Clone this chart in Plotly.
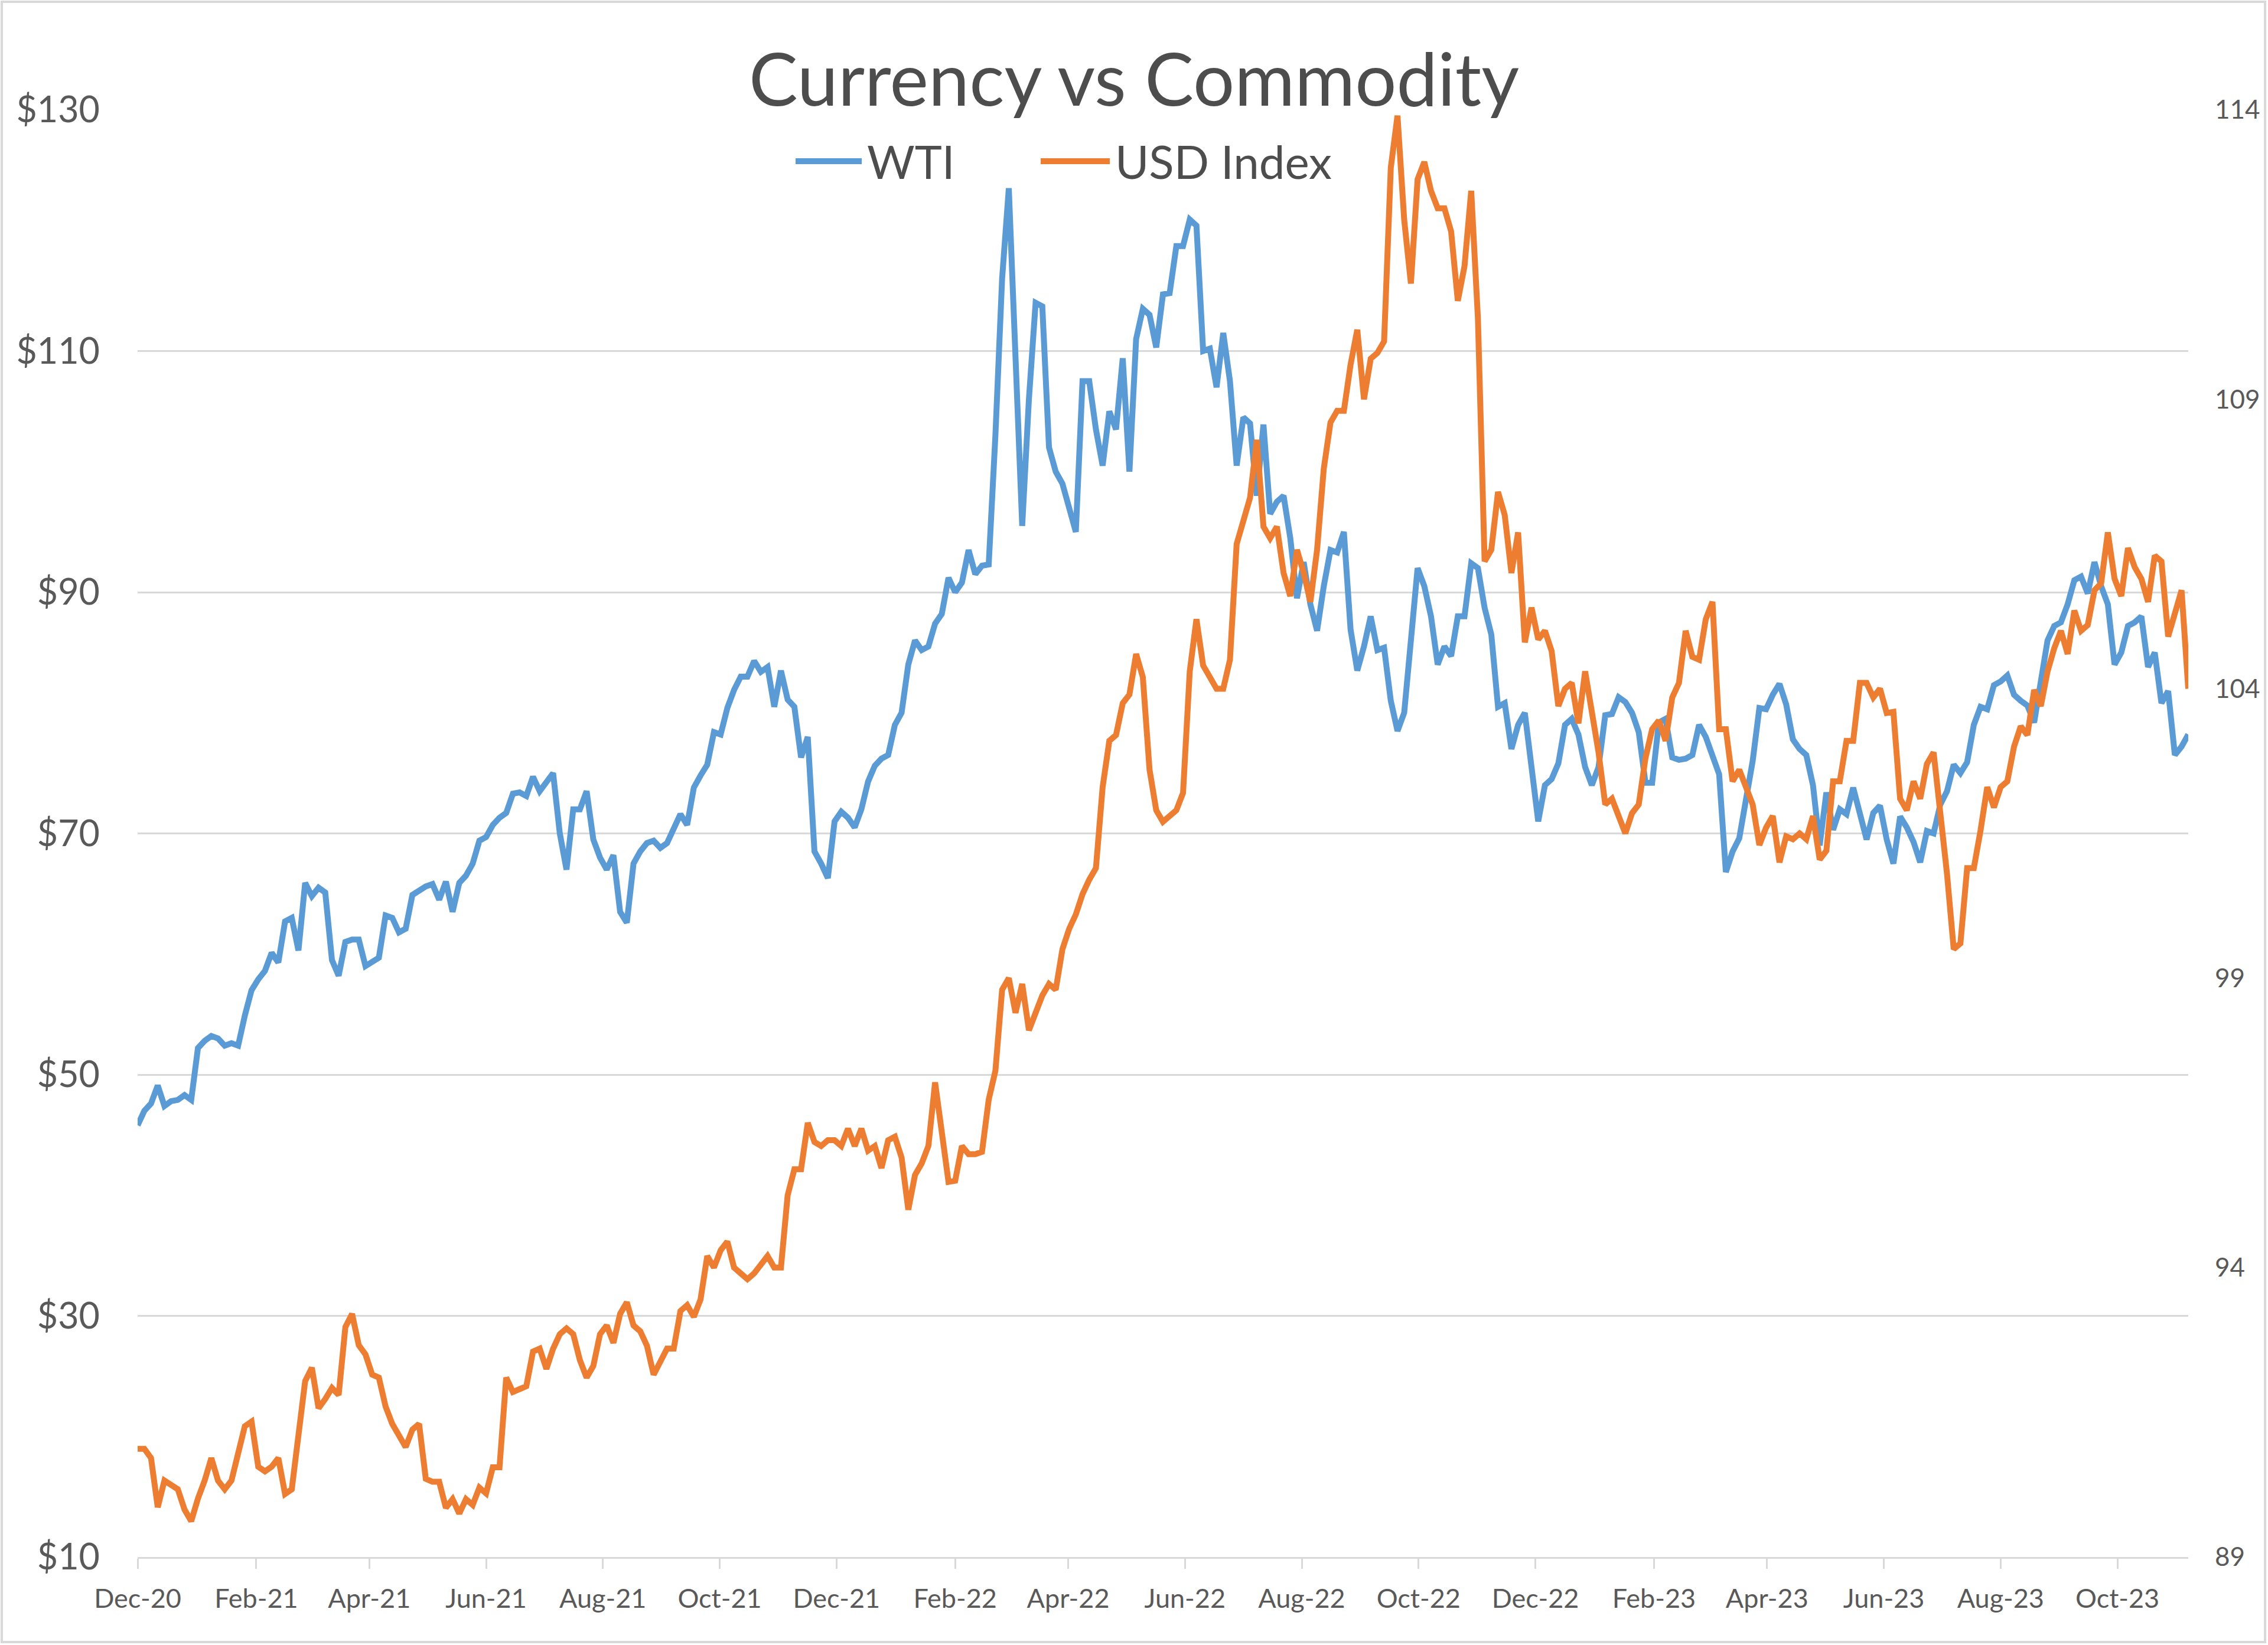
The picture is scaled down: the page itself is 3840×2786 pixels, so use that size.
import pandas as pd
import plotly.graph_objects as go

# ---- data: readings every half week (3.5 days), picture dates from Dec 1 2020 ----
first_date = "2020-12-01"
step = "84h"

wti = [
    45.8, 47.0, 47.6, 49.1, 47.4, 47.8, 47.9, 48.3, 47.9, 52.2,
    52.8, 53.2, 53.0, 52.4, 52.6, 52.4, 54.9, 57.0, 57.9, 58.6,
    60.1, 59.3, 62.7, 63.0, 60.3, 65.9, 64.8, 65.5, 65.1, 59.5,
    58.2, 61.0, 61.2, 61.2, 59.0, 59.3, 59.7, 63.2, 63.0, 61.8,
    62.1, 64.9, 65.3, 65.6, 65.8, 64.5, 66.0, 63.5, 65.9, 66.5,
    67.5, 69.4, 69.7, 70.7, 71.3, 71.7, 73.3, 73.4, 73.1, 74.7,
    73.5, 74.2, 75.0, 70.0, 67.0, 72.0, 72.0, 73.5, 69.5, 68.0,
    67.0, 68.2, 63.5, 62.6, 67.5, 68.5, 69.2, 69.4, 68.8, 69.2,
    70.5, 71.6, 70.7, 73.8, 74.8, 75.7, 78.4, 78.2, 80.4, 81.9,
    83.0, 83.0, 84.3, 83.4, 83.8, 80.5, 83.5, 81.1, 80.5, 76.3,
    78.0, 68.5, 67.5, 66.3, 71.0, 71.8, 71.3, 70.5, 72.0, 74.3,
    75.6, 76.2, 76.5, 79.0, 80.0, 84.0, 86.0, 85.2, 85.5, 87.4,
    88.2, 91.2, 90.0, 90.8, 93.5, 91.5, 92.2, 92.3, 103.0, 116.0,
    123.5, 108.5, 95.5, 106.0, 114.0, 113.7, 102.0, 100.0, 99.0, 97.0,
    95.0, 107.5, 107.5, 103.5, 100.5, 105.0, 103.5, 109.4, 100.0, 111.0,
    113.5, 113.0, 110.3, 114.7, 114.8, 118.7, 118.7, 120.9, 120.4, 110.0,
    110.2, 107.0, 111.5, 107.5, 100.5, 104.5, 104.0, 98.0, 103.9, 96.5,
    97.5, 98.0, 94.5, 89.5, 92.5, 89.0, 86.8, 90.5, 93.5, 93.3,
    95.0, 86.9, 83.5, 85.5, 88.0, 85.2, 85.4, 81.0, 78.5, 80.0,
    86.0, 92.0, 90.5, 88.0, 84.0, 85.5, 84.7, 88.0, 88.0, 92.4,
    92.0, 88.7, 86.5, 80.5, 80.8, 77.0, 79.0, 80.0, 75.5, 71.0,
    74.0, 74.5, 75.8, 79.0, 79.5, 78.2, 75.5, 74.0, 75.5, 79.8,
    79.9, 81.3, 80.9, 80.0, 78.4, 74.2, 74.2, 79.2, 79.5, 76.3,
    76.1, 76.2, 76.5, 79.0, 78.0, 76.3, 74.9, 66.8, 68.5, 69.6,
    72.8, 76.0, 80.4, 80.3, 81.5, 82.4, 80.7, 77.8, 77.0, 76.5,
    74.0, 69.0, 73.4, 70.3, 72.0, 71.6, 73.8, 71.5, 69.5, 71.7,
    72.3, 69.5, 67.5, 71.4, 70.5, 69.3, 67.6, 70.2, 70.0, 72.4,
    73.5, 75.7, 75.0, 75.9, 79.0, 80.5, 80.3, 82.3, 82.6, 83.1,
    81.5, 81.0, 80.6, 79.2, 82.5, 86.0, 87.2, 87.5, 89.0, 91.0,
    91.3, 89.9, 92.5, 90.5, 89.0, 84.0, 85.0, 87.2, 87.5, 88.0,
    83.8, 85.0, 80.8, 81.8, 76.5, 77.2, 78.2,
]

usd_index = [
    90.87, 90.87, 90.71, 89.86, 90.32, 90.25, 90.17, 89.82, 89.62, 90.01,
    90.32, 90.71, 90.32, 90.17, 90.32, 90.79, 91.26, 91.34, 90.56, 90.48,
    90.56, 90.71, 90.09, 90.17, 91.03, 92.04, 92.27, 91.57, 91.73, 91.92,
    91.80, 92.97, 93.20, 92.66, 92.50, 92.15, 92.10, 91.60, 91.30, 91.10,
    90.90, 91.20, 91.30, 90.35, 90.30, 90.30, 89.85, 90.00, 89.75, 90.00,
    89.90, 90.20, 90.10, 90.55, 90.55, 92.10, 91.85, 91.90, 91.95, 92.55,
    92.60, 92.25, 92.60, 92.85, 92.95, 92.85, 92.40, 92.10, 92.30, 92.85,
    93.00, 92.70, 93.20, 93.40, 93.00, 92.90, 92.65, 92.15, 92.40, 92.60,
    92.60, 93.25, 93.35, 93.15, 93.45, 94.20, 94.00, 94.30, 94.45, 94.00,
    93.90, 93.80, 93.90, 94.05, 94.20, 94.00, 94.00, 95.25, 95.70, 95.70,
    96.50, 96.17, 96.10, 96.20, 96.20, 96.10, 96.40, 96.10, 96.40, 96.02,
    96.10, 95.72, 96.20, 96.26, 95.90, 95.00, 95.60, 95.80, 96.10, 97.20,
    96.40, 95.48, 95.50, 96.10, 95.96, 95.96, 96.00, 96.90, 97.40, 98.80,
    99.00, 98.40, 98.90, 98.10, 98.40, 98.70, 98.90, 98.80, 99.50, 99.85,
    100.10, 100.45, 100.70, 100.90, 102.30, 103.10, 103.20, 103.75, 103.90, 104.60,
    104.20, 102.60, 101.90, 101.70, 101.80, 101.90, 102.20, 104.30, 105.20, 104.40,
    104.20, 104.00, 104.00, 104.50, 106.50, 106.90, 107.30, 108.30, 106.80, 106.60,
    106.80, 106.00, 105.60, 106.40, 106.00, 105.50, 106.40, 107.80, 108.60, 108.80,
    108.80, 109.60, 110.20, 109.00, 109.70, 109.80, 110.00, 113.00, 113.90, 112.10,
    111.00, 112.80, 113.10, 112.60, 112.30, 112.30, 111.90, 110.70, 111.30, 112.60,
    110.40, 106.20, 106.40, 107.40, 107.00, 106.00, 106.70, 104.80, 105.40, 104.85,
    105.00, 104.65, 103.70, 104.00, 104.10, 103.40, 104.30, 103.60, 102.90, 102.00,
    102.10, 101.80, 101.50, 101.85, 102.00, 102.80, 103.30, 103.45, 103.10, 103.85,
    104.10, 105.00, 104.55, 104.50, 105.20, 105.50, 103.30, 103.30, 102.40, 102.60,
    102.30, 102.00, 101.30, 101.60, 101.80, 101.00, 101.45, 101.40, 101.50, 101.40,
    101.80, 101.05, 101.20, 102.40, 102.40, 103.10, 103.10, 104.10, 104.10, 103.85,
    104.00, 103.58, 103.60, 102.10, 101.90, 102.40, 102.10, 102.70, 102.90, 101.95,
    100.80, 99.50, 99.60, 100.90, 100.90, 101.55, 102.30, 101.95, 102.30, 102.40,
    103.00, 103.35, 103.20, 103.98, 103.70, 104.30, 104.70, 105.00, 104.60, 105.35,
    105.00, 105.10, 105.70, 105.82, 106.70, 105.90, 105.60, 106.43, 106.10, 105.90,
    105.50, 106.30, 106.20, 104.90, 105.30, 105.70, 104.00,
]

series_names = ["WTI", "USD Index"]
chart_title = "Currency vs Commodity"
left_ticks = [10, 30, 50, 70, 90, 110, 130]
left_labels = ["$10", "$30", "$50", "$70", "$90", "$110", "$130"]
right_ticks = [89, 94, 99, 104, 109, 114]

dates = pd.date_range(first_date, periods=len(wti), freq=step)
dates_usd = pd.date_range(first_date, periods=len(usd_index), freq=step)

BLUE = "#5B9BD5"
ORANGE = "#ED7D31"
GRID = "#d9d9d9"
TXT = "#595959"
HEAD = "#4d4d4d"
FONT = "Lato"

W, H = 3840, 2786
L, R, T, B = 233, 135, 186, 149
PW, PH = W - L - R, H - T - B


def px(xf):
    return (xf - L) / PW


def py(yf):
    return (H - B - yf) / PH


fig = go.Figure()
fig.add_trace(go.Scatter(x=dates, y=wti, name=series_names[0], mode="lines",
                         line=dict(color=BLUE, width=10), yaxis="y"))
fig.add_trace(go.Scatter(x=dates_usd, y=usd_index, name=series_names[1], mode="lines",
                         line=dict(color=ORANGE, width=10), yaxis="y2"))

# legend drawn like the reference (long line keys)
leg_y = py(273)
shapes = [
    dict(type="line", xref="paper", yref="paper", x0=px(1347), x1=px(1459),
         y0=leg_y, y1=leg_y, line=dict(color=BLUE, width=10)),
    dict(type="line", xref="paper", yref="paper", x0=px(1762), x1=px(1879),
         y0=leg_y, y1=leg_y, line=dict(color=ORANGE, width=10)),
    dict(type="rect", xref="paper", yref="paper", x0=px(3), x1=px(3835),
         y0=py(2781), y1=py(3), line=dict(color=GRID, width=4), layer="below"),
]
annotations = [
    dict(text=series_names[0], xref="paper", yref="paper", x=px(1466), y=leg_y,
         xanchor="left", yanchor="middle", showarrow=False,
         font=dict(family=FONT, size=78, color=HEAD)),
    dict(text=series_names[1], xref="paper", yref="paper", x=px(1886), y=leg_y,
         xanchor="left", yanchor="middle", showarrow=False,
         font=dict(family=FONT, size=78, color=HEAD)),
]

fig.update_layout(
    width=W, height=H,
    margin=dict(l=L, r=R, t=T, b=B, pad=0),
    paper_bgcolor="white", plot_bgcolor="white",
    showlegend=False,
    title=dict(text=chart_title, x=0.5, xanchor="center", xref="container",
               y=1 - 136 / H, yanchor="middle",
               font=dict(family=FONT, size=124, color=HEAD)),
    shapes=shapes,
    annotations=annotations,
    xaxis=dict(type="date", range=[dates[0], dates[-1]],
               tick0="2020-12-01", dtick="M2", tickformat="%b-%y",
               showgrid=False, zeroline=False,
               showline=True, linecolor=GRID, linewidth=3,
               ticks="outside", ticklen=17, tickwidth=3, tickcolor=GRID,
               ticklabelstandoff=12,
               tickfont=dict(family=FONT, size=45, color=TXT)),
    yaxis=dict(range=[10, 130], tickvals=left_ticks, ticktext=left_labels,
               showgrid=True, gridcolor=GRID, gridwidth=3,
               zeroline=False, showline=False, ticks="",
               ticklabelstandoff=63,
               tickfont=dict(family=FONT, size=61, color=TXT)),
    yaxis2=dict(range=[89, 114], tickvals=right_ticks, overlaying="y",
                side="right", showgrid=False, zeroline=False,
                showline=False, ticks="", ticklabelstandoff=44,
                tickfont=dict(family=FONT, size=44, color=TXT)),
)

fig.write_html("out.html", config={"displayModeBar": False},
               post_script="document.body.style.margin='0';")
